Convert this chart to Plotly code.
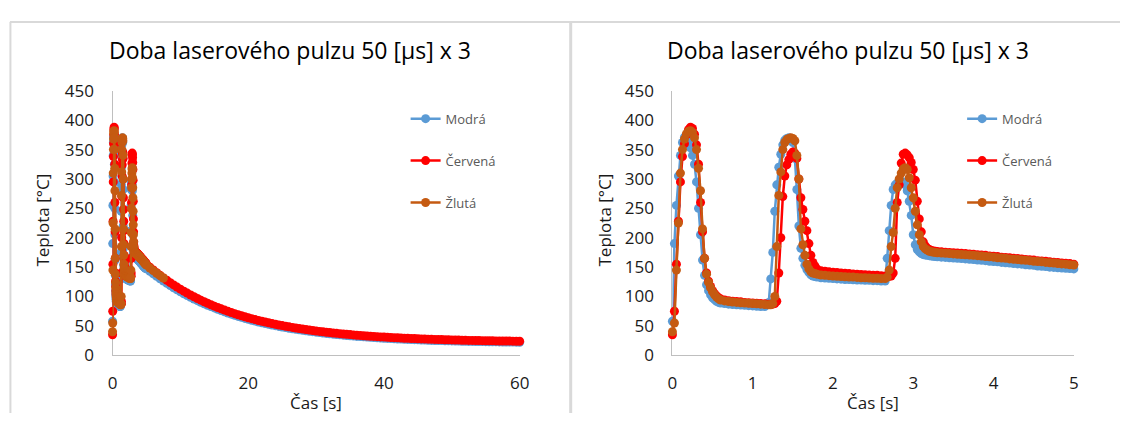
import plotly.graph_objects as go

# ---------------- data ----------------
time_s = [
    0, 0.025, 0.05, 0.075, 0.1, 0.125, 0.15, 0.175, 0.2, 0.225, 0.25, 0.275, 0.3, 0.325, 0.35,
    0.375, 0.4, 0.425, 0.45, 0.475, 0.5, 0.525, 0.55, 0.575, 0.6,
    0.65, 0.7, 0.75, 0.8, 0.85, 0.9, 0.95, 1.0, 1.05, 1.1, 1.15, 1.2,
    1.225, 1.25, 1.275, 1.3, 1.325, 1.35, 1.375, 1.4, 1.425, 1.45, 1.475, 1.5, 1.525, 1.55,
    1.575, 1.6, 1.625, 1.65, 1.675, 1.7, 1.725, 1.75, 1.775, 1.8,
    1.85, 1.9, 1.95, 2.0, 2.05, 2.1, 2.15, 2.2, 2.25, 2.3, 2.35, 2.4, 2.45, 2.5, 2.55, 2.6, 2.65,
    2.675, 2.7, 2.725, 2.75, 2.775, 2.8, 2.825, 2.85, 2.875, 2.9, 2.925, 2.95, 2.975, 3.0, 3.025,
    3.05, 3.075, 3.1, 3.125, 3.15, 3.175, 3.2, 3.225, 3.25, 3.275, 3.3,
    3.35, 3.4, 3.45, 3.5, 3.55, 3.6, 3.65, 3.7, 3.75, 3.8, 3.85, 3.9, 3.95, 4.0, 4.05, 4.1, 4.15,
    4.2, 4.25, 4.3, 4.35, 4.4, 4.45, 4.5, 4.55, 4.6, 4.65, 4.7, 4.75, 4.8, 4.85, 4.9, 4.95, 5.0,
    5.5, 6.0, 6.5, 7.0, 7.5, 8.0, 8.5, 9.0, 9.5, 10.0, 10.5, 11.0, 11.5, 12.0, 12.5, 13.0, 13.5,
    14.0, 14.5, 15.0, 15.5, 16.0, 16.5, 17.0, 17.5, 18.0, 18.5, 19.0, 19.5, 20.0, 20.5, 21.0,
    21.5, 22.0, 22.5, 23.0, 23.5, 24.0, 24.5, 25.0, 25.5, 26.0, 26.5, 27.0, 27.5, 28.0, 28.5,
    29.0, 29.5, 30.0, 30.5, 31.0, 31.5, 32.0, 32.5, 33.0, 33.5, 34.0, 34.5, 35.0, 35.5, 36.0,
    36.5, 37.0, 37.5, 38.0, 38.5, 39.0, 39.5, 40.0, 40.5, 41.0, 41.5, 42.0, 42.5, 43.0, 43.5,
    44.0, 44.5, 45.0, 45.5, 46.0, 46.5, 47.0, 47.5, 48.0, 48.5, 49.0, 49.5, 50.0, 50.5, 51.0,
    51.5, 52.0, 52.5, 53.0, 53.5, 54.0, 54.5, 55.0, 55.5, 56.0, 56.5, 57.0, 57.5, 58.0, 58.5,
    59.0, 59.5, 60.0,
]

modra = [
    58, 190, 255, 305, 340, 362, 371, 370, 363, 353, 340, 325, 295, 250, 205, 162, 136, 120, 110,
    103, 98, 95, 92, 90, 89,
    88, 87, 86.5, 86, 85.5, 85, 84.5, 84, 83.5, 83, 83, 90,
    130, 175, 245, 290, 320, 342, 358, 366, 369, 370, 368, 362, 335, 282, 220, 182, 165, 153,
    146, 141, 137, 135, 134, 133,
    132, 131.5, 131, 130.5, 130, 129.5, 129, 129, 128.5, 128, 128, 127.5, 127.5, 127, 127, 126.5, 126.5,
    165, 212, 255, 282, 290, 293, 295, 296, 295, 290, 280, 262, 238, 205, 188, 180, 176, 173,
    171.5, 170.5, 170, 169.5, 169, 168.5, 168, 167.5,
    167, 166.5, 166, 165.5, 165, 164.5, 164, 163.5, 163, 162, 161.5, 161, 160, 159.5, 159, 158,
    157.5, 157, 156, 155.5, 155, 154, 153.5, 153, 152, 151.5, 151, 150, 149.5, 149, 148.5, 148,
    147.5, 147,
    143.0, 138.5, 134.3, 130.2, 126.3, 122.6, 118.7, 115.0, 111.5, 108.1, 104.8, 101.7, 98.6,
    95.7, 93.0, 90.2, 87.7, 85.2, 82.9, 80.6, 78.3, 76.1, 74.0, 71.9, 70.0, 68.1, 66.2, 64.6,
    62.8, 61.2, 59.7, 58.2, 56.7, 55.4, 54.1, 52.8, 51.6, 50.4, 49.2, 48.2, 47.1, 46.1, 45.2,
    44.2, 43.3, 42.5, 41.7, 40.9, 40.2, 39.4, 38.7, 38.0, 37.3, 36.6, 36.0, 35.4, 34.8, 34.3,
    33.7, 33.2, 32.7, 32.2, 31.9, 31.4, 31.0, 30.6, 30.2, 29.8, 29.4, 29.1, 28.7, 28.4, 28.1,
    27.8, 27.6, 27.3, 27.1, 26.8, 26.6, 26.3, 26.1, 25.9, 25.7, 25.4, 25.2, 25.1, 25.0, 24.8,
    24.6, 24.5, 24.3, 24.2, 24.0, 23.9, 23.7, 23.6, 23.5, 23.4, 23.3, 23.2, 23.1, 23.0, 22.9,
    22.8, 22.7, 22.6, 22.6, 22.5, 22.4, 22.3,
]

cervena = [
    35, 75, 155, 228, 295, 338, 360, 375, 384, 388, 386, 376, 358, 325, 260, 210, 165, 140, 126,
    117, 110, 105, 101, 98, 96,
    94, 93, 92, 91.5, 91, 90, 89.5, 89, 88.5, 88, 87.5, 87,
    87, 87, 88, 92, 140, 200, 270, 305, 324, 333, 342, 346, 344, 335, 300, 268, 248, 228, 212,
    190, 170, 158, 152, 147,
    144, 143, 142, 141.5, 141, 140, 139.5, 139, 138.5, 138, 137.5, 137, 136.5, 136, 136, 135.5, 135,
    134.5, 134.5, 135, 140, 165, 260, 290, 327, 342, 344, 341, 336, 328, 316, 298, 262, 232, 210,
    193, 186, 182, 180, 178.5, 177.5, 177, 176.5,
    176, 175.5, 175, 174.5, 174, 173.5, 173, 172.5, 172, 171, 170.5, 170, 169, 168.5, 168, 167,
    166.5, 166, 165, 164.5, 164, 163, 162.5, 162, 161, 160.5, 160, 159, 158.5, 158, 157, 156.5,
    156, 155,
    150.0, 145.1, 140.5, 136.0, 131.7, 127.6, 123.6, 119.7, 116.1, 112.5, 109.1, 105.8, 102.6,
    99.6, 96.7, 93.8, 91.1, 88.5, 86.0, 83.6, 81.3, 79.0, 76.9, 74.8, 72.8, 70.9, 69.0, 67.3,
    65.5, 63.9, 62.3, 60.8, 59.3, 57.9, 56.6, 55.3, 54.0, 52.8, 51.6, 50.5, 49.4, 48.4, 47.4,
    46.4, 45.5, 44.6, 43.8, 43.0, 42.2, 41.4, 40.7, 40.0, 39.3, 38.6, 38.0, 37.4, 36.8, 36.3,
    35.7, 35.2, 34.7, 34.2, 33.8, 33.3, 32.9, 32.5, 32.1, 31.7, 31.3, 31.0, 30.6, 30.3, 30.0,
    29.7, 29.4, 29.1, 28.9, 28.6, 28.4, 28.1, 27.9, 27.7, 27.5, 27.2, 27.0, 26.9, 26.7, 26.5,
    26.3, 26.2, 26.0, 25.9, 25.7, 25.6, 25.4, 25.3, 25.2, 25.1, 24.9, 24.8, 24.7, 24.6, 24.5,
    24.4, 24.3, 24.2, 24.2, 24.1, 24.0, 23.9,
]

zluta = [
    40, 55, 145, 225, 310, 350, 368, 377, 381, 382, 379, 370, 350, 318, 280, 215, 165, 138, 124,
    115, 108, 103, 99, 96, 94,
    92.5, 91.5, 90.5, 90, 89.5, 89, 88.5, 88, 87.5, 87, 86.5, 86,
    86, 88, 100, 185, 272, 312, 350, 362, 367, 369, 370, 369, 365, 340, 300, 215, 188, 170, 155,
    147, 142, 140, 139, 138,
    136.5, 136, 135.5, 135, 134.5, 134, 133.5, 133, 133, 132.5, 132, 132, 131.5, 131, 131, 130.5, 130.5,
    133, 145, 185, 209, 250, 285, 300, 310, 317, 319, 316, 302, 285, 268, 245, 222, 205, 193,
    185, 181, 179, 177, 176, 175.5, 175, 174.5,
    174, 173.5, 173, 172.5, 172, 171.5, 171, 170.5, 170, 169.5, 169, 168, 167.5, 167, 166,
    165.5, 165, 164, 163.5, 163, 162, 161.5, 161, 160, 159.5, 159, 158, 157.5, 157, 156, 155.5,
    155, 154, 153.5,
    148.5, 144, 139.5, 135.5, 131.5,
]

series_names = ["Modrá", "Červená", "Žlutá"]
series_values = [modra, cervena, zluta]
series_colors = ["#5B9BD5", "#FF0000", "#C55A11"]

chart_title = "Doba laserového pulzu 50 [µs] x 3"
x_title = "Čas [s]"
y_title = "Teplota [°C]"
x_range_left = [0, 60]
x_range_right = [0, 5]
y_range = [0, 450]

# ---------------- layout helpers (pixels -> paper) ----------------
W, H = 1130, 424
def fx(p):
    return p / W
def fy(p):
    return 1 - p / H

FONT = "Open Sans"

fig = go.Figure()

for name, vals, col in zip(series_names, series_values, series_colors):
    t = time_s[:len(vals)]
    style = dict(
        mode="lines+markers",
        name=name,
        line=dict(color=col, width=2.5),
        marker=dict(color=col, size=9),
        cliponaxis=False,
    )
    fig.add_trace(go.Scatter(x=t, y=vals, xaxis="x", yaxis="y", legend="legend",
                             legendgroup=name, **style))
    tr = [tt for tt in t if tt <= x_range_right[1]]
    vr = vals[:len(tr)]
    fig.add_trace(go.Scatter(x=tr, y=vr, xaxis="x2", yaxis="y2", legend="legend2",
                             legendgroup=name + "_r", **style))

axis_common = dict(
    showline=True, linecolor="#bfbfbf", linewidth=1.3, showgrid=False, zeroline=False,
    ticks="", tickfont=dict(family=FONT, size=17, color="#1a1a1a"), layer="below traces",
    fixedrange=True,
)

y_top, y_bot = 83.3, 363
fig.update_layout(
    width=W, height=H, autosize=False,
    margin=dict(l=0, r=0, t=0, b=0),
    paper_bgcolor="white", plot_bgcolor="white",
    showlegend=True,
    xaxis=dict(domain=[fx(109), fx(521.6)], range=x_range_left, dtick=20, tick0=0,
               anchor="y", ticklabelstandoff=12, **axis_common),
    yaxis=dict(domain=[fy(y_bot), fy(y_top)], range=y_range, dtick=50, tick0=0,
               anchor="x", ticklabelstandoff=14, **axis_common),
    xaxis2=dict(domain=[fx(676.4), fx(1083.2)], range=x_range_right, dtick=1, tick0=0,
                anchor="y2", ticklabelstandoff=12, **axis_common),
    yaxis2=dict(domain=[fy(y_bot), fy(y_top)], range=y_range, dtick=50, tick0=0,
                anchor="x2", ticklabelstandoff=14, **axis_common),
    legend=dict(x=fx(406), y=fy(97), xanchor="left", yanchor="top",
                font=dict(family=FONT, size=13, color="#595959"),
                bgcolor="rgba(0,0,0,0)", traceorder="grouped", tracegroupgap=22),
    legend2=dict(x=fx(970), y=fy(97), xanchor="left", yanchor="top",
                 font=dict(family=FONT, size=13, color="#595959"),
                 bgcolor="rgba(0,0,0,0)", traceorder="grouped", tracegroupgap=22),
)

ann = []
for cx, axc in [(289, 315), (854, 880)]:
    ann.append(dict(text=chart_title, x=fx(cx), y=fy(40), xref="paper", yref="paper",
                    showarrow=False, xanchor="center", yanchor="middle",
                    font=dict(family=FONT, size=23, color="#000000")))
    ann.append(dict(text=x_title, x=fx(axc), y=fy(413), xref="paper", yref="paper",
                    showarrow=False, xanchor="center", yanchor="middle",
                    font=dict(family=FONT, size=17, color="#1a1a1a")))
for cx in [38, 607.5]:
    ann.append(dict(text=y_title, x=fx(cx), y=fy(220), xref="paper", yref="paper",
                    showarrow=False, xanchor="center", yanchor="middle", textangle=-90,
                    font=dict(family=FONT, size=17, color="#1a1a1a")))
fig.update_layout(annotations=ann)

border = dict(color="#d9d9d9", width=2)
fig.update_layout(shapes=[
    dict(type="line", xref="paper", yref="paper", x0=fx(5), x1=1, y0=fy(10.5), y1=fy(10.5), line=border),
    dict(type="line", xref="paper", yref="paper", x0=fx(5.5), x1=fx(5.5), y0=fy(10.5), y1=0, line=border),
    dict(type="line", xref="paper", yref="paper", x0=fx(573.3), x1=fx(573.3), y0=fy(10.5), y1=0,
         line=dict(color="#d9d9d9", width=3)),
])

fig.write_html("out.html", config={"displayModeBar": False},
               post_script="document.body.style.margin='0';")
